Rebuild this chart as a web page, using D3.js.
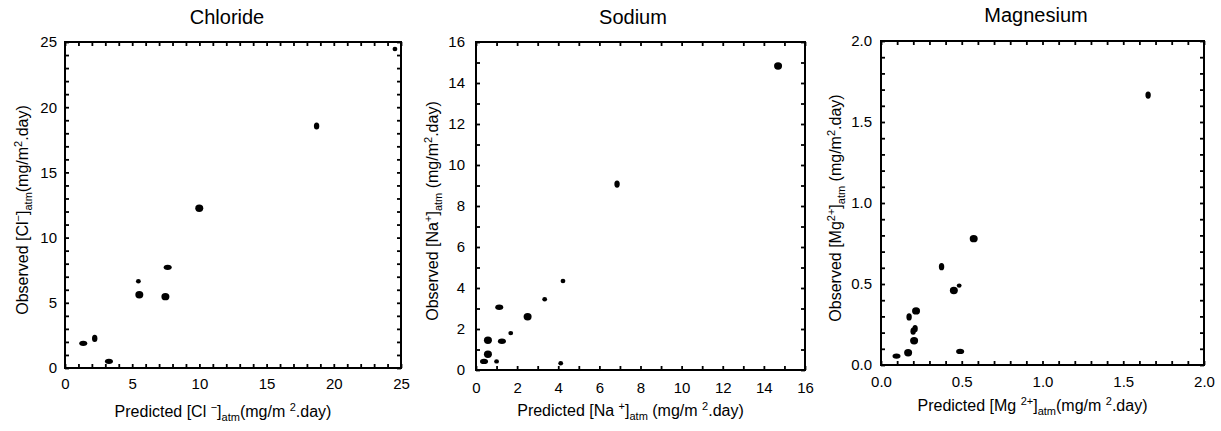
<!DOCTYPE html>
<html lang="en">
<meta charset="utf-8">
<head>
<script src="https://d3js.org/d3.v7.min.js"></script>
<style>
  body { margin: 0; background: #fff; }
  text { font-family: Arial, "Liberation Sans", sans-serif; fill: #000; }
</style>
</head>
<body>
<svg id="chart" width="1221" height="431"></svg>
<script>
// ---- data ----
var panelNames = ["Chloride", "Sodium", "Magnesium"];

var clPredicted = [24.55, 18.72, 9.99, 7.64, 5.46, 5.53, 7.47, 1.36, 2.21, 3.27];
var clObserved  = [24.46, 18.56, 12.25, 7.72, 6.65, 5.62, 5.47, 1.89, 2.27, 0.51];

var naPredicted = [14.69, 6.86, 4.23, 3.34, 2.51, 1.13, 1.69, 1.26, 0.58, 0.58, 0.39, 1.00, 4.12];
var naObserved  = [14.83, 9.07, 4.34, 3.45, 2.60, 3.06, 1.80, 1.40, 1.45, 0.77, 0.42, 0.42, 0.33];

var mgPredicted = [1.654, 0.574, 0.375, 0.451, 0.484, 0.217, 0.174, 0.211, 0.199, 0.205, 0.168, 0.096, 0.490];
var mgObserved  = [1.666, 0.780, 0.607, 0.460, 0.490, 0.334, 0.297, 0.224, 0.209, 0.150, 0.076, 0.055, 0.084];

var clTicks = [0, 5, 10, 15, 20, 25];
var naTicks = [0, 2, 4, 6, 8, 10, 12, 14, 16];
var mgTicks = [0, 0.5, 1.0, 1.5, 2.0];

// axis titles: [text, "n" normal | "sup" | "sub"]
var xTitles = [
  [["Predicted [Cl ", "n"], ["\u2212", "sup"], ["]", "n"], ["atm", "sub"], ["(mg/m ", "n"], ["2", "sup"], [".day)", "n"]],
  [["Predicted [Na ", "n"], ["+", "sup"], ["]", "n"], ["atm", "sub"], [" (mg/m ", "n"], ["2", "sup"], [".day)", "n"]],
  [["Predicted [Mg ", "n"], ["2+", "sup"], ["]", "n"], ["atm", "sub"], ["(mg/m ", "n"], ["2", "sup"], [".day)", "n"]]
];
var yTitles = [
  [["Observed [Cl", "n"], ["\u2212", "sup"], ["]", "n"], ["atm", "sub"], ["(mg/m", "n"], ["2", "sup"], [".day)", "n"]],
  [["Observed [Na", "n"], ["+", "sup"], ["]", "n"], ["atm", "sub"], [" (mg/m", "n"], ["2", "sup"], [".day)", "n"]],
  [["Observed [Mg", "n"], ["2+", "sup"], ["]", "n"], ["atm", "sub"], [" (mg/m", "n"], ["2", "sup"], [".day)", "n"]]
];

// marker shapes (style only): L big round, S small round, H flat, V tall
var clShape = ["S", "V", "L", "H", "S", "L", "L", "H", "V", "H"];
var naShape = ["L", "V", "S", "S", "L", "H", "S", "H", "L", "L", "H", "S", "S"];
var mgShape = ["V", "L", "V", "L", "S", "L", "V", "V", "V", "L", "L", "H", "H"];
var shapeR = { L: [4, 3.7], S: [2.4, 2.2], H: [4, 2.7], V: [2.7, 3.6] };

var svg = d3.select("#chart");

var panels = [
  { x0: 65,  x1: 401,  y0: 42, y1: 368, max: 25, major: clTicks, minor: 1,   fmt: d3.format("d"),
    px: clPredicted, py: clObserved, shape: clShape, padX: 10, padY: 8,  tcx: 227,  tty: 24, xty: 417, ytx: 22 },
  { x0: 476, x1: 805,  y0: 42, y1: 370, max: 16, major: naTicks, minor: 1,   fmt: d3.format("d"),
    px: naPredicted, py: naObserved, shape: naShape, padX: 12, padY: 11, tcx: 633,  tty: 24, xty: 416, ytx: 432 },
  { x0: 881, x1: 1204, y0: 41, y1: 365, max: 2,  major: mgTicks, minor: 0.1, fmt: d3.format(".1f"),
    px: mgPredicted, py: mgObserved, shape: mgShape, padX: 11, padY: 9,  tcx: 1036, tty: 22, xty: 411, ytx: 835 }
];

function richText(sel, parts) {
  var shift = 0;
  parts.forEach(function(p) {
    var t = sel.append("tspan").text(p[0]);
    var want = p[1] === "sup" ? -6 : (p[1] === "sub" ? 4 : 0);
    t.attr("dy", want - shift);
    shift = want;
    if (p[1] !== "n") t.style("font-size", "11px");
  });
}

panels.forEach(function(p, i) {
  var x = d3.scaleLinear().domain([0, p.max]).range([p.x0, p.x1]);
  var y = d3.scaleLinear().domain([0, p.max]).range([p.y1, p.y0]);
  var minor = d3.range(0, p.max + p.minor / 2, p.minor);
  var g = svg.append("g");

  // inward minor ticks on all four sides
  var tick = function(ax, tx, ty) {
    g.append("g").attr("transform", "translate(" + tx + "," + ty + ")")
      .call(ax.tickValues(minor).tickSize(-4).tickFormat(""))
      .call(function(s) { s.select(".domain").remove(); s.selectAll("line").attr("stroke-width", 1.8); });
  };
  tick(d3.axisBottom(x), 0, p.y1);
  tick(d3.axisTop(x), 0, p.y0);
  tick(d3.axisLeft(y), p.x0, 0);
  tick(d3.axisRight(y), p.x1, 0);

  // labels
  g.append("g").attr("transform", "translate(0," + p.y1 + ")")
    .call(d3.axisBottom(x).tickValues(p.major).tickSize(0).tickPadding(p.padX).tickFormat(p.fmt))
    .call(function(s) { s.select(".domain").remove(); s.selectAll("text").style("font-size", "15px").style("font-family", "Arial, 'Liberation Sans', sans-serif"); });
  g.append("g").attr("transform", "translate(" + p.x0 + ",0)")
    .call(d3.axisLeft(y).tickValues(p.major).tickSize(0).tickPadding(p.padY).tickFormat(p.fmt))
    .call(function(s) { s.select(".domain").remove(); s.selectAll("text").style("font-size", "15px").style("font-family", "Arial, 'Liberation Sans', sans-serif"); });

  // frame
  g.append("rect")
    .attr("x", p.x0).attr("y", p.y0)
    .attr("width", p.x1 - p.x0).attr("height", p.y1 - p.y0)
    .attr("fill", "none").attr("stroke", "#000").attr("stroke-width", 2);

  // points
  g.append("g").selectAll("ellipse")
    .data(p.px.map(function(v, k) { return { x: v, y: p.py[k], s: p.shape[k] }; }))
    .enter().append("ellipse")
      .attr("cx", function(d) { return x(d.x); })
      .attr("cy", function(d) { return y(d.y); })
      .attr("rx", function(d) { return shapeR[d.s][0]; })
      .attr("ry", function(d) { return shapeR[d.s][1]; })
      .attr("fill", "#000");

  // titles
  g.append("text").attr("x", p.tcx).attr("y", p.tty)
    .attr("text-anchor", "middle").style("font-size", "20px").text(panelNames[i]);

  richText(g.append("text").attr("x", (p.x0 + p.x1) / 2 - 10).attr("y", p.xty)
    .attr("text-anchor", "middle").style("font-size", "16px"), xTitles[i]);

  richText(g.append("text")
    .attr("transform", "translate(" + (p.ytx + 6) + "," + ((p.y0 + p.y1) / 2 + 5) + ") rotate(-90)")
    .attr("text-anchor", "middle").style("font-size", "16px"), yTitles[i]);
});
</script>
</body>
</html>
